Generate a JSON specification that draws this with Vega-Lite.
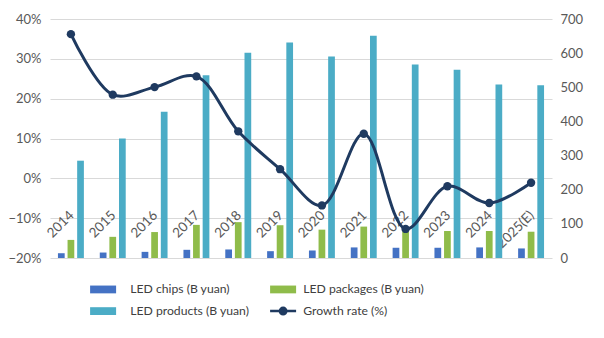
{
  "$schema": "https://vega.github.io/schema/vega-lite/v6.json",
  "autosize": {"type": "none"},
  "width": 502,
  "height": 239,
  "padding": {"left": 50, "top": 19, "right": 52, "bottom": 80},
  "background": "white",
  "config": {
    "view": {"stroke": null},
    "font": "Lato",
    "axis": {"labelFont": "Lato", "labelColor": "#595959", "labelFontSize": 13, "domain": false, "ticks": false, "title": null},
    "legend": {"labelFont": "Lato", "labelFontSize": 12.2, "labelColor": "#404040"}
  },
  "data": {"values": [
    {"year": "2014", "series": "LED chips (B yuan)", "value": 14},
    {"year": "2014", "series": "LED packages (B yuan)", "value": 53},
    {"year": "2014", "series": "LED products (B yuan)", "value": 285},
    {"year": "2014", "series": "Growth rate (%)", "value": 0.362},
    {"year": "2015", "series": "LED chips (B yuan)", "value": 16},
    {"year": "2015", "series": "LED packages (B yuan)", "value": 62},
    {"year": "2015", "series": "LED products (B yuan)", "value": 350},
    {"year": "2015", "series": "Growth rate (%)", "value": 0.21},
    {"year": "2016", "series": "LED chips (B yuan)", "value": 18},
    {"year": "2016", "series": "LED packages (B yuan)", "value": 76},
    {"year": "2016", "series": "LED products (B yuan)", "value": 428},
    {"year": "2016", "series": "Growth rate (%)", "value": 0.229},
    {"year": "2017", "series": "LED chips (B yuan)", "value": 24},
    {"year": "2017", "series": "LED packages (B yuan)", "value": 97},
    {"year": "2017", "series": "LED products (B yuan)", "value": 535},
    {"year": "2017", "series": "Growth rate (%)", "value": 0.256},
    {"year": "2018", "series": "LED chips (B yuan)", "value": 25},
    {"year": "2018", "series": "LED packages (B yuan)", "value": 105},
    {"year": "2018", "series": "LED products (B yuan)", "value": 601},
    {"year": "2018", "series": "Growth rate (%)", "value": 0.118},
    {"year": "2019", "series": "LED chips (B yuan)", "value": 20},
    {"year": "2019", "series": "LED packages (B yuan)", "value": 96},
    {"year": "2019", "series": "LED products (B yuan)", "value": 631},
    {"year": "2019", "series": "Growth rate (%)", "value": 0.023},
    {"year": "2020", "series": "LED chips (B yuan)", "value": 22},
    {"year": "2020", "series": "LED packages (B yuan)", "value": 83},
    {"year": "2020", "series": "LED products (B yuan)", "value": 590},
    {"year": "2020", "series": "Growth rate (%)", "value": -0.068},
    {"year": "2021", "series": "LED chips (B yuan)", "value": 31},
    {"year": "2021", "series": "LED packages (B yuan)", "value": 92},
    {"year": "2021", "series": "LED products (B yuan)", "value": 651},
    {"year": "2021", "series": "Growth rate (%)", "value": 0.112},
    {"year": "2022", "series": "LED chips (B yuan)", "value": 30},
    {"year": "2022", "series": "LED packages (B yuan)", "value": 78},
    {"year": "2022", "series": "LED products (B yuan)", "value": 567},
    {"year": "2022", "series": "Growth rate (%)", "value": -0.127},
    {"year": "2023", "series": "LED chips (B yuan)", "value": 30},
    {"year": "2023", "series": "LED packages (B yuan)", "value": 79},
    {"year": "2023", "series": "LED products (B yuan)", "value": 551},
    {"year": "2023", "series": "Growth rate (%)", "value": -0.02},
    {"year": "2024", "series": "LED chips (B yuan)", "value": 31},
    {"year": "2024", "series": "LED packages (B yuan)", "value": 79},
    {"year": "2024", "series": "LED products (B yuan)", "value": 508},
    {"year": "2024", "series": "Growth rate (%)", "value": -0.062},
    {"year": "2025(E)", "series": "LED chips (B yuan)", "value": 28},
    {"year": "2025(E)", "series": "LED packages (B yuan)", "value": 77},
    {"year": "2025(E)", "series": "LED products (B yuan)", "value": 506},
    {"year": "2025(E)", "series": "Growth rate (%)", "value": -0.011}
  ]},
  "encoding": {
    "x": {"field": "year", "type": "nominal", "sort": null,
      "scale": {"paddingInner": 0.38, "paddingOuter": 0.19},
      "axis": {"labelAngle": -45, "offset": -80, "labelPadding": 30, "labelOffset": -4, "labelFontSize": 13.5}}
  },
  "layer": [
    {
      "transform": [{"filter": "datum.series !== 'Growth rate (%)'"}],
      "mark": {"type": "bar"},
      "encoding": {
        "xOffset": {"field": "series", "type": "nominal", "sort": ["LED chips (B yuan)", "LED packages (B yuan)", "LED products (B yuan)"], "scale": {"paddingInner": 0.3, "paddingOuter": 0}},
        "y": {"field": "value", "type": "quantitative",
          "scale": {"domain": [0, 700], "nice": false, "zero": true},
          "axis": {"orient": "right", "values": [0, 100, 200, 300, 400, 500, 600, 700], "grid": false, "labelPadding": 8}},
        "color": {"field": "series", "type": "nominal",
          "scale": {"domain": ["LED chips (B yuan)", "LED packages (B yuan)", "LED products (B yuan)", "Growth rate (%)"],
                    "range": ["#4472C4", "#8FBC4A", "#4BACC6", "#1F3A60"]},
          "legend": {
            "orient": "none", "legendX": 47, "legendY": 264, "columns": 2, "direction": "horizontal", "title": null,
            "padding": 0, "columnPadding": 15, "rowPadding": 6, "labelOffset": 21,
            "symbolSize": 676,
            "encode": {
              "symbols": {"update": {
                "shape": {"signal": "datum.value === 'Growth rate (%)' ? 'M-1,0H1M-0.25,0A0.25,0.25,0,1,1,0.25,0A0.25,0.25,0,1,1,-0.25,0Z' : 'M-1,-0.3H1V0.3H-1Z'"},
                "fill": {"signal": "scale('color', datum.value)"},
                "stroke": {"signal": "scale('color', datum.value)"},
                "strokeWidth": {"signal": "datum.value === 'Growth rate (%)' ? 2.5 : 0"},
                "size": {"value": 676},
                "opacity": {"value": 1},
                "fillOpacity": {"value": 1}
              }},
              "labels": {"update": {
                "dx": {"signal": "(datum.value === 'LED packages (B yuan)' || datum.value === 'Growth rate (%)') ? -7 : 0"}
              }}
            }
          }}
      }
    },
    {
      "transform": [{"filter": "datum.series === 'Growth rate (%)'"}],
      "mark": {"type": "line", "interpolate": "catmull-rom", "strokeWidth": 3, "point": {"filled": true, "size": 70}},
      "encoding": {
        "y": {"field": "value", "type": "quantitative",
          "scale": {"domain": [-0.2, 0.4], "nice": false, "zero": false},
          "axis": {"orient": "left", "format": ".0%", "values": [-0.2, -0.1, 0, 0.1, 0.2, 0.3, 0.4], "grid": true, "gridColor": "#D9D9D9", "gridWidth": 1, "labelPadding": 9}},
        "color": {"field": "series", "type": "nominal"}
      }
    }
  ],
  "resolve": {"scale": {"y": "independent"}}
}
